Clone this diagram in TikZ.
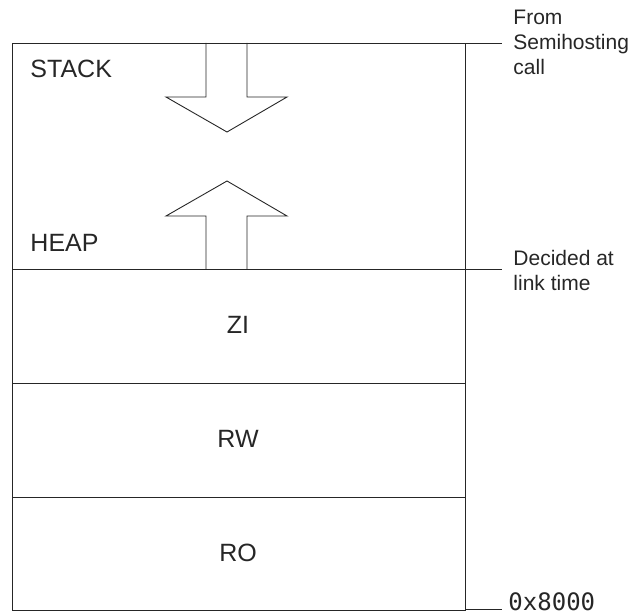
\documentclass[tikz,border=0pt]{standalone}
\usepackage{fontspec}
\setmainfont{Liberation Sans}
\newfontfamily\monofont{DejaVu Sans Mono}
\begin{document}
\begin{tikzpicture}[x=1pt,y=-1pt,
  line width=0.9pt, draw=black!85,
  region/.style={font=\fontsize{25}{28}\selectfont, text=black!85, inner sep=0pt},
  side/.style={font=\fontsize{21}{25}\selectfont, text=black!85, align=left, anchor=west, inner sep=0pt},
  fatarrow/.style={draw=black!85, line width=0.9pt, line join=miter}]
\useasboundingbox (0,0) rectangle (644,615);
% frame
\coordinate (tl) at (12,43);
\coordinate (br) at (465,610);
\draw (tl) rectangle (br);
\draw (12,269) -- (465,269);
\draw (12,383) -- (465,383);
\draw (12,497) -- (465,497);
% extension lines
\coordinate (e1) at (502,43);
\coordinate (e2) at (502,269);
\coordinate (e3) at (502,609);
\draw (465,43) -- (e1);
\draw (465,269) -- (e2);
\draw (465,609) -- (e3);
% arrows
\draw[fatarrow] (206,43) -- (206,97) -- (166,97) -- (227,132) -- (287,97) -- (247,97) -- (247,43);
\draw[fatarrow] (206,269) -- (206,216) -- (166,216) -- (227,181) -- (287,216) -- (247,216) -- (247,269);
% region labels
\node[region, anchor=west] (stack) at (30,69) {STACK};
\node[region, anchor=west] (heap) at (30,243) {HEAP};
\node[region] (zi) at (238,325) {ZI};
\node[region] (rw) at (238,439) {RW};
\node[region] (ro) at (238,553) {RO};
% side labels
\node[side] (from) at (513,42) {From\\Semihosting\\call};
\node[side] (decided) at (513,270) {Decided at\\link time};
\node[anchor=base west, inner sep=0pt, font=\monofont\fontsize{24}{26}\selectfont, text=black!85] (addr) at (508,610) {0x8000};
\end{tikzpicture}
\end{document}
